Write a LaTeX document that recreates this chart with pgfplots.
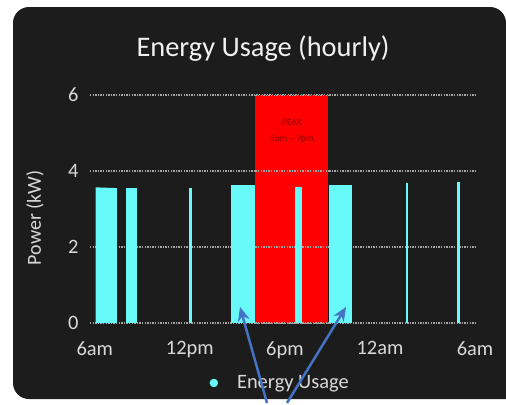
\documentclass[border=0pt]{standalone}
\usepackage{pgfplots}
\pgfplotsset{compat=1.18}
\usepackage{fontspec}
\setmainfont{Carlito}
\usetikzlibrary{arrows.meta}
\definecolor{bg}{RGB}{28,28,28}
\definecolor{cy}{RGB}{104,250,250}
\definecolor{pk}{RGB}{255,0,0}
\definecolor{tx}{RGB}{217,217,217}
\definecolor{ar}{RGB}{68,114,196}
\definecolor{dr}{RGB}{135,0,0}
\tikzset{gridsty/.style={draw=gray!70!white, dash pattern=on 1.3bp off 1.3bp, line width=1.4bp}}
\begin{document}
\begin{tikzpicture}
\fill[white] (0,0) rectangle (506bp,-403bp);
\fill[bg, rounded corners=16bp] (13bp,-7bp) -- (506bp,-7bp) [sharp corners] -- (506bp,-399bp) [rounded corners=16bp] -- (13bp,-399bp) -- cycle;
\node[text=white!94!black, font=\fontsize{28.5}{28.5}\selectfont] at (263bp,-49bp) {Energy Usage (hourly)};
\node[rotate=90, text=tx, font=\fontsize{20}{20}\selectfont] at (35bp,-218bp) {Power (kW)};
\begin{axis}[
  at={(90bp,-323bp)}, anchor=south west,
  scale only axis, width=385bp, height=228bp,
  xmin=-0.3, xmax=24, ymin=0, ymax=6,
  axis line style={draw=none}, major tick length=0pt,
  xtick={0,6,12,18,24}, xticklabels={6am,12pm,6pm,12am,6am},
  ytick={0,2,4,6},
  ymajorgrids,
  major grid style={gridsty},
  ticklabel style={text=tx, font=\fontsize{20.5}{20.5}\selectfont},
  /pgf/number format/assume math mode=true,
  xticklabel style={yshift=-15bp},
  yticklabel style={xshift=-8bp},
  legend style={at={(0.494,-0.263)}, anchor=center, draw=none, fill=none,
    text=tx, font=\fontsize{20.5}{20.5}\selectfont},
  legend image code/.code={\fill[cy] (0bp,0bp) circle (4bp); \path (21bp,0bp);},
]
\addplot[fill=pk, draw=none, forget plot]
  coordinates {(10.14,0) (10.14,6) (14.74,6) (14.74,0)} -- cycle;
\draw[gridsty] (axis cs:10.14,2) -- (axis cs:14.74,2);
\draw[gridsty] (axis cs:10.14,4) -- (axis cs:14.74,4);
\draw[gridsty] (axis cs:10.14,6) -- (axis cs:14.74,6);
\draw[gridsty] (axis cs:10.14,0) -- (axis cs:14.74,0);
\addplot[fill=cy, draw=none, forget plot] coordinates {(0.06,0) (0.06,3.57) (1.39,3.55) (1.39,0)} -- cycle;
\addplot[fill=cy, draw=none, forget plot] coordinates {(1.95,0) (1.95,3.55) (2.65,3.55) (2.65,0)} -- cycle;
\addplot[fill=cy, draw=none, forget plot] coordinates {(5.97,0) (5.97,3.56) (6.11,3.56) (6.11,0)} -- cycle;
\addplot[fill=cy, draw=none, forget plot] coordinates {(8.57,0) (8.57,3.63) (10.14,3.63) (10.14,0)} -- cycle;
\addplot[fill=cy, draw=none, forget plot] coordinates {(12.66,0) (12.66,3.57) (13.1,3.57) (13.1,0)} -- cycle;
\addplot[fill=cy, draw=none, forget plot] coordinates {(14.8,0) (14.8,3.63) (16.25,3.63) (16.25,0)} -- cycle;
\addplot[fill=cy, draw=none, forget plot] coordinates {(19.62,0) (19.62,3.68) (19.8,3.68) (19.8,0)} -- cycle;
\addplot[fill=cy, draw=none, forget plot] coordinates {(22.88,0) (22.88,3.71) (23.08,3.71) (23.08,0)} -- cycle;
\addlegendimage{only marks, mark=*, color=cy}
\addlegendentry{Energy Usage}
\node[text=dr, font=\fontsize{9.5}{16.5}\selectfont, align=center] at (axis cs:12.44,5.05) {PEAK\\5pm – 9pm};
\end{axis}
\draw[ar, line width=2.5bp, -{Stealth[length=14bp,width=12bp]}] (267bp,-403bp) -- (240bp,-307bp);
\draw[ar, line width=2.5bp, -{Stealth[length=14bp,width=12bp]}] (287bp,-403bp) -- (346bp,-307bp);
\end{tikzpicture}
\end{document}
